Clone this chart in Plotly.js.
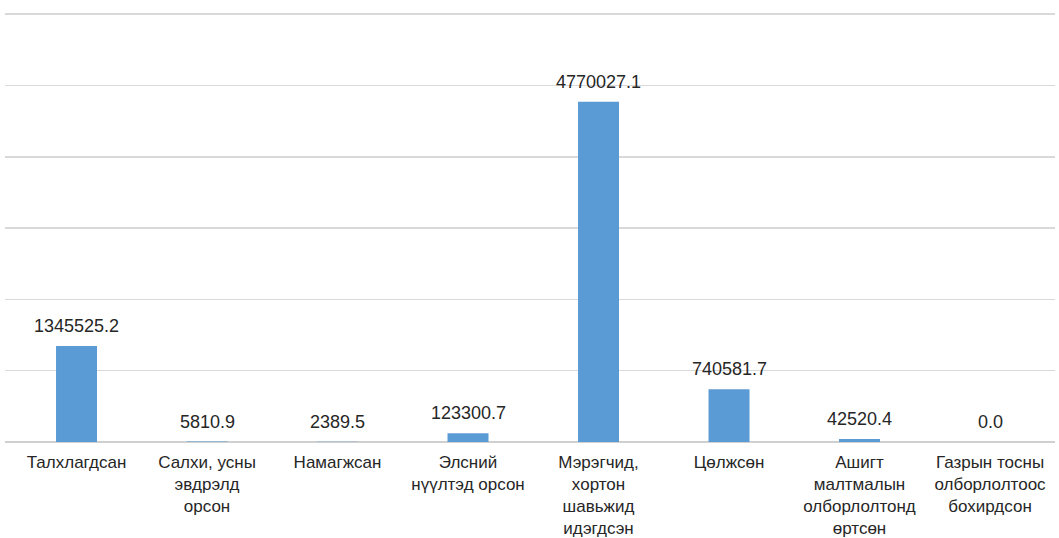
<!DOCTYPE html>
<html>
<head>
<meta charset="utf-8">
<script src="https://cdn.plot.ly/plotly-3.0.1.min.js"></script>
<style>
  html, body { margin: 0; padding: 0; background: #ffffff; }
  #chart { width: 1059px; height: 538px; }
</style>
</head>
<body>
<div id="chart"></div>
<script>
// Land degradation categories (area, ha)
const categories = [
  "Талхлагдсан",
  "Салхи, усны<br>эвдрэлд<br>орсон",
  "Намагжсан",
  "Элсний<br>нүүлтэд орсон",
  "Мэрэгчид,<br>хортон<br>шавьжид<br>идэгдсэн",
  "Цөлжсөн",
  "Ашигт<br>малтмалын<br>олборлолтонд<br>өртсөн",
  "Газрын тосны<br>олборлолтоос<br>бохирдсон"
];
const values = [1345525.2, 5810.9, 2389.5, 123300.7, 4770027.1, 740581.7, 42520.4, 0.0];

const idx = categories.map((_, i) => i);
const FONT = "Liberation Sans, Arial, sans-serif";

const trace = {
  type: "bar",
  x: idx,
  y: values,
  width: 0.314,
  marker: { color: "#5b9bd5" },
  hoverinfo: "skip"
};

// value labels above each bar
const annotations = values.map((v, i) => ({
  x: i,
  y: v,
  xref: "x",
  yref: "y",
  text: v.toFixed(1),
  showarrow: false,
  yanchor: "middle",
  yshift: 20,
  font: { family: FONT, size: 18, color: "#262626" }
}));

const layout = {
  width: 1059,
  height: 538,
  margin: { l: 5, r: 4, t: 12, b: 96 },
  paper_bgcolor: "#ffffff",
  plot_bgcolor: "#ffffff",
  showlegend: false,
  xaxis: {
    range: [-0.548, 7.498],
    tickmode: "array",
    tickvals: idx,
    ticktext: categories,
    showgrid: false,
    zeroline: false,
    showline: false,
    ticks: "",
    ticklabelstandoff: 8,
    tickfont: { family: FONT, size: 17, color: "#262626" }
  },
  yaxis: {
    range: [0, 6030000],
    tickmode: "linear",
    tick0: 0,
    dtick: 1000000,
    showgrid: true,
    gridcolor: "#d9d9d9",
    gridwidth: 1.5,
    zeroline: true,
    zerolinecolor: "#d0d0d0",
    zerolinewidth: 1.5,
    showticklabels: false,
    ticks: ""
  },
  annotations: annotations
};

Plotly.newPlot("chart", [trace], layout, { displayModeBar: false, staticPlot: true });
</script>
</body>
</html>
